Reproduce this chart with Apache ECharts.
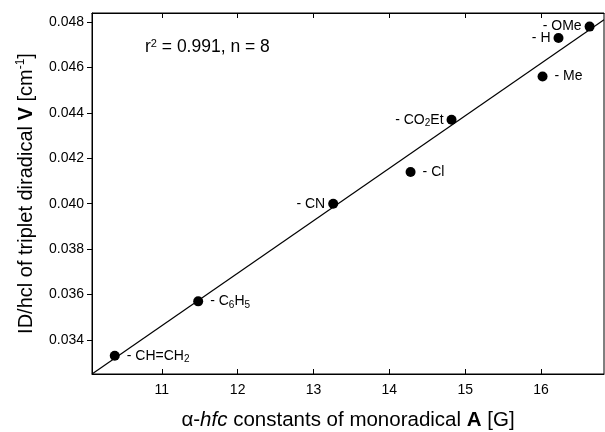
<!DOCTYPE html>
<html>
<head>
<meta charset="utf-8">
<script src="https://cdn.jsdelivr.net/npm/echarts@6/dist/echarts.min.js"></script>
<style>
  html, body { margin: 0; padding: 0; background: #fff; }
  #chart { width: 605px; height: 432px; }
</style>
</head>
<body>
<div id="chart"></div>
<script>
// substituent data: alpha-hfc of monoradical A vs D/hc of triplet diradical V
var substituents = ['CH=CH2', 'C6H5', 'CN', 'Cl', 'CO2Et', 'Me', 'H', 'OMe'];
var hfcA = [10.38, 11.48, 13.26, 14.28, 14.82, 16.02, 16.23, 16.64];
var dV = [0.0333, 0.0357, 0.0400, 0.0414, 0.0437, 0.0456, 0.0473, 0.0478];
var labelSide = ['right', 'right', 'left', 'right', 'left', 'right', 'left', 'left'];

// regression line end points
var fitX = [10.08, 16.83];
var fitY = [0.0325, 0.0481];

var xTicks = [11, 12, 13, 14, 15, 16];
var yTicks = [0.034, 0.036, 0.038, 0.040, 0.042, 0.044, 0.046, 0.048];

var font = 'Liberation Sans, Arial, sans-serif';
var subRich = {
    a: { fontSize: 14, fontFamily: font, color: '#000' },
    s: { fontSize: 10, fontFamily: font, color: '#000', padding: [7, 0, 0, 0] }
};

function subLabel(name) {
    return '{a|- ' + name.replace(/(\d)/g, '}{s|$1}{a|') + '}';
}

var points = hfcA.map(function (x, i) {
    return {
        value: [x, dV[i]],
        name: substituents[i],
        label: { position: labelSide[i], distance: labelSide[i] === 'left' ? 3 : 7 }
    };
});

var line = fitX.map(function (x, i) { return [x, fitY[i]]; });

var option = {
    backgroundColor: '#fff',
    animation: false,
    grid: {
        left: 92,
        top: 13,
        right: 1,
        bottom: 58,
        containLabel: false,
        outerBoundsMode: 'none',
        show: true,
        borderColor: '#000',
        borderWidth: 1
    },
    xAxis: [{
        type: 'value',
        min: 10.08,
        max: 16.83,
        name: '{n|α-}{i|hfc}{n| constants of monoradical }{b|A}{n| [G]}',
        nameLocation: 'middle',
        nameGap: 36,
        nameTextStyle: {
            rich: {
                n: { fontSize: 20.5, fontFamily: font, color: '#000' },
                i: { fontSize: 20.5, fontFamily: font, color: '#000', fontStyle: 'italic' },
                b: { fontSize: 20.5, fontFamily: font, color: '#000', fontWeight: 'bold' }
            }
        },
        splitLine: { show: false },
        axisLine: { lineStyle: { color: '#000', width: 1 } },
        axisTick: { inside: true, length: 5, customValues: xTicks, lineStyle: { color: '#000' } },
        axisLabel: {
            customValues: xTicks,
            color: '#000',
            fontSize: 14,
            fontFamily: font,
            margin: 9
        }
    }, {
        type: 'value',
        position: 'top',
        min: 10.08,
        max: 16.83,
        splitLine: { show: false },
        axisLine: { lineStyle: { color: '#000', width: 1 } },
        axisTick: { inside: true, length: 5, customValues: xTicks, lineStyle: { color: '#000' } },
        axisLabel: { show: false }
    }],
    yAxis: {
        type: 'value',
        min: 0.0325,
        max: 0.0484,
        name: '{n|ID/hcl of triplet diradical }{b|V}{n| [cm}{p|-1}{n|]}',
        nameLocation: 'middle',
        nameGap: 55,
        nameTextStyle: {
            rich: {
                n: { fontSize: 20, fontFamily: font, color: '#000' },
                b: { fontSize: 20, fontFamily: font, color: '#000', fontWeight: 'bold' },
                p: { fontSize: 12, fontFamily: font, color: '#000', padding: [0, 0, 10, 0] }
            }
        },
        splitLine: { show: false },
        axisLine: { lineStyle: { color: '#000', width: 1 } },
        axisTick: { inside: false, length: 5, customValues: yTicks, lineStyle: { color: '#000' } },
        axisLabel: {
            customValues: yTicks,
            color: '#000',
            fontSize: 14,
            fontFamily: font,
            margin: 8,
            formatter: function (v) { return v.toFixed(3); }
        }
    },
    graphic: [{
        type: 'text',
        left: 145,
        top: 38,
        style: {
            text: '{n|r}{p|2}{n| = 0.991, n = 8}',
            rich: {
                n: { fontSize: 17.5, fontFamily: font, fill: '#000' },
                p: { fontSize: 11, fontFamily: font, fill: '#000', padding: [0, 0, 8, 0] }
            }
        }
    }],
    series: [{
        name: 'fit',
        type: 'line',
        data: line,
        symbol: 'none',
        lineStyle: { color: '#000', width: 1.2 },
        silent: true
    }, {
        name: 'substituents',
        type: 'scatter',
        data: points,
        symbolSize: 10,
        itemStyle: { color: '#000', opacity: 1 },
        label: {
            show: true,
            formatter: function (p) { return subLabel(p.name); },
            rich: subRich
        }
    }]
};

var chart = echarts.init(document.getElementById('chart'));
chart.setOption(option);
</script>
</body>
</html>
